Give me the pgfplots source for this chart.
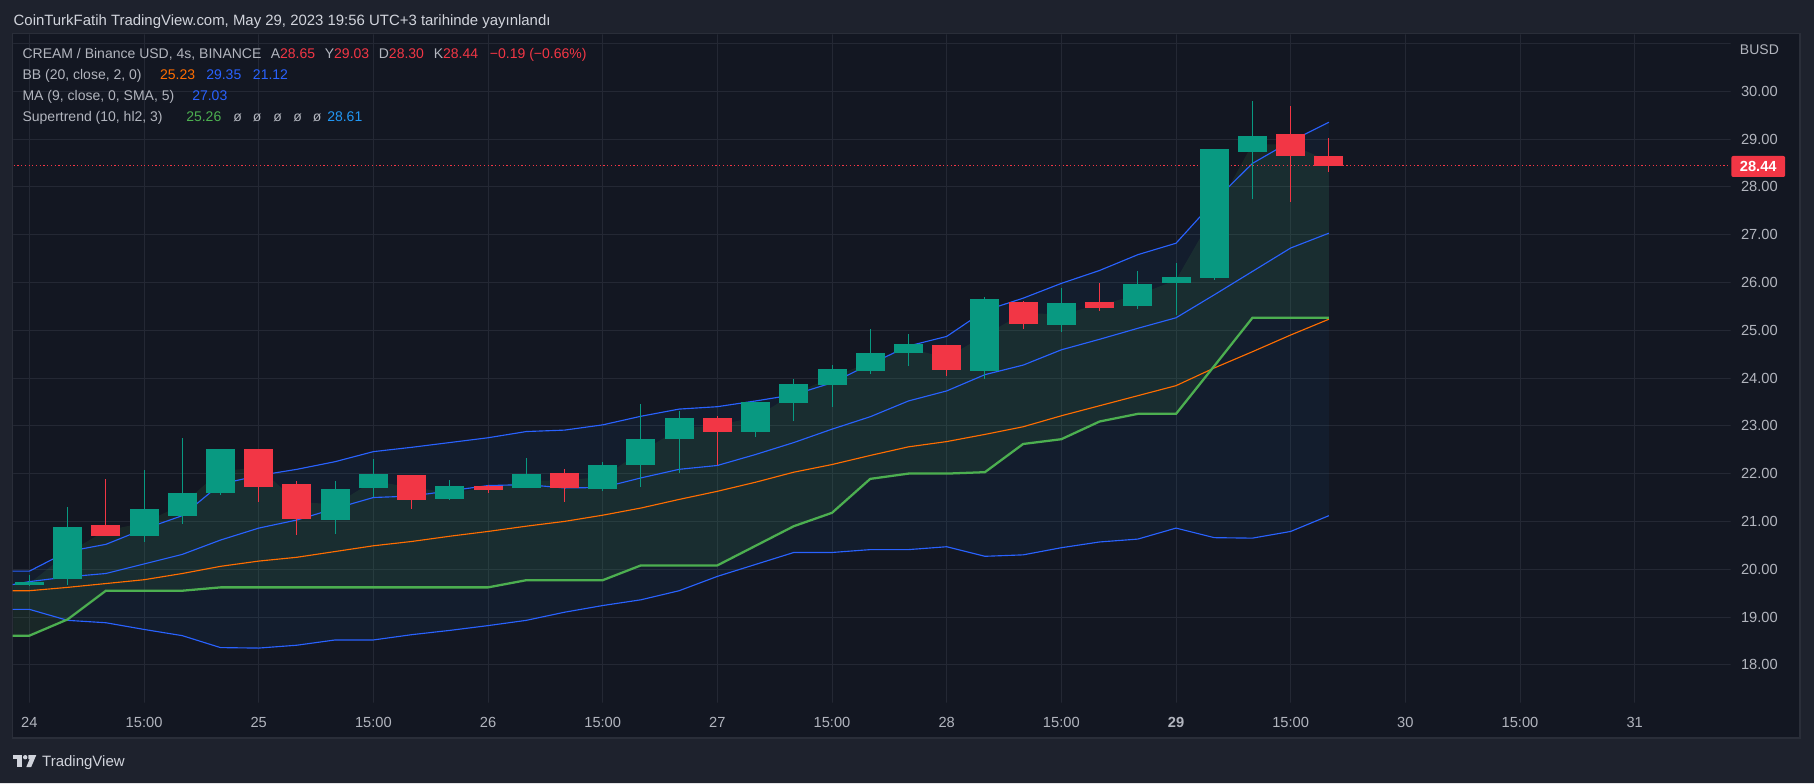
\documentclass[border=0pt]{standalone}
\usepackage{fontspec}
\setmainfont{Liberation Sans}
\usepackage{pgfplots}
\pgfplotsset{compat=1.18}
\usepackage{pgfplotstable}
\usepgfplotslibrary{fillbetween}

\definecolor{outerbg}{RGB}{30,34,45}
\definecolor{plotbg}{RGB}{19,23,34}
\definecolor{framec}{RGB}{42,46,57}
\definecolor{gridc}{RGB}{36,40,52}
\definecolor{txt}{RGB}{178,181,190}
\definecolor{hdr}{RGB}{209,212,220}
\definecolor{upc}{RGB}{8,153,129}
\definecolor{dnc}{RGB}{242,54,69}
\definecolor{bbblue}{RGB}{41,98,255}
\definecolor{basisc}{RGB}{255,109,0}
\definecolor{stgreen}{RGB}{76,175,80}
\definecolor{stblue}{RGB}{33,150,243}

% 4h candles, index 0 = 24 May 03:00
\pgfplotstableread{
i  o     h     l     c
-1 19.70 19.70 19.70 19.70
0  19.66 19.87 19.64 19.74
1  19.79 21.31 19.66 20.89
2  20.93 21.89 20.69 20.69
3  20.69 22.08 20.56 21.25
4  21.11 22.75 20.94 21.60
5  21.59 22.52 21.56 22.52
6  22.52 22.52 21.40 21.73
7  21.79 21.84 20.71 21.04
8  21.02 21.85 20.73 21.68
9  21.69 22.31 21.51 22.00
10 21.98 21.98 21.27 21.44
11 21.46 21.87 21.44 21.75
12 21.75 21.77 21.59 21.65
13 21.70 22.32 21.70 22.00
14 22.02 22.09 21.40 21.70
15 21.67 22.25 21.63 22.19
16 22.19 23.45 21.72 22.72
17 22.72 23.30 22.01 23.16
18 23.16 23.20 22.19 22.87
19 22.87 23.49 22.76 23.49
20 23.48 23.97 23.10 23.87
21 23.85 24.27 23.39 24.18
22 24.15 25.02 24.08 24.52
23 24.53 24.92 24.25 24.71
24 24.69 24.69 24.05 24.16
25 24.14 25.70 23.97 25.66
26 25.59 25.62 25.03 25.12
27 25.10 25.89 24.97 25.57
28 25.59 25.99 25.41 25.47
29 25.50 26.24 25.45 25.97
30 25.98 26.41 25.32 26.12
31 26.10 28.79 26.05 28.79
32 28.72 29.80 27.75 29.07
33 29.11 29.69 27.69 28.65
34 28.65 29.03 28.30 28.44
}\candles

% u = upper BB, m = MA, b = BB basis, l = lower BB, s = supertrend
\pgfplotstableread{
i  u     m     b     l     s
-1 19.96 19.60 19.55 19.16 18.61
0  19.96 19.74 19.55 19.16 18.61
1  20.37 19.84 19.62 18.93 18.95
2  20.52 19.91 19.70 18.88 19.55
3  20.84 20.11 19.78 18.74 19.55
4  21.12 20.31 19.91 18.61 19.55
5  21.78 20.61 20.06 18.36 19.62
6  21.96 20.86 20.17 18.35 19.62
7  22.09 21.03 20.25 18.41 19.62
8  22.25 21.27 20.37 18.52 19.62
9  22.46 21.50 20.49 18.52 19.62
10 22.55 21.53 20.58 18.63 19.62
11 22.65 21.64 20.69 18.72 19.62
12 22.75 21.75 20.79 18.82 19.62
13 22.88 21.77 20.90 18.93 19.77
14 22.91 21.70 21.00 19.10 19.77
15 23.02 21.71 21.13 19.24 19.77
16 23.20 21.91 21.28 19.36 20.08
17 23.35 22.09 21.46 19.55 20.08
18 23.40 22.17 21.63 19.85 20.08
19 23.52 22.40 21.82 20.10 20.49
20 23.65 22.65 22.03 20.35 20.90
21 23.90 22.93 22.19 20.35 21.18
22 24.29 23.19 22.38 20.41 21.89
23 24.67 23.52 22.56 20.41 22.00
24 24.87 23.73 22.67 20.47 22.00
25 25.41 24.07 22.82 20.27 22.03
26 25.67 24.27 22.98 20.30 22.62
27 25.98 24.59 23.21 20.45 22.72
28 26.25 24.81 23.42 20.57 23.09
29 26.58 25.04 23.63 20.63 23.25
30 26.82 25.26 23.84 20.86 23.25
31 27.70 25.74 24.21 20.66 24.25
32 28.49 26.23 24.55 20.65 25.26
33 28.95 26.72 24.90 20.79 25.26
34 29.35 27.03 25.23 21.12 25.26
}\ind

\begin{document}
\begin{tikzpicture}
% backgrounds around the plot area (pixel units from the top left)
\begin{scope}[x=0.75pt,y=-0.75pt,shift={(0pt,587.25pt)}]
  \fill[outerbg, even odd rule] (0,0) rectangle (1814,783) (12.7,33.3) rectangle (1800,738);
  \fill[plotbg, even odd rule] (12.7,33.3) rectangle (1800,738) (13.2,34.5) rectangle (1730.5,702.5);
  \draw[framec, line width=1.1pt] (12.7,33.3) rectangle (1800,738);
\end{scope}

\begin{axis}[
  set layers,
  at={(9.525pt,60pt)}, anchor=south west,
  scale only axis, width=1288.7pt, height=501.75pt,
  xmin=-0.437, xmax=44.52, ymin=17.201, ymax=31.197,
  axis background/.style={fill=plotbg},
  axis line style={draw=none},
  major tick length=0pt, tick style={draw=none},
  grid=major, major grid style={draw=gridc, line width=0.75pt},
  xtick={0,3,...,42}, ytick={18,...,31},
  xticklabels={}, yticklabels={},
]
% Bollinger band fill
\addplot[draw=none, name path=bbu] table[x=i,y=u]{\ind};
\addplot[draw=none, name path=bbl] table[x=i,y=l]{\ind};
\addplot[fill=stblue, fill opacity=0.055, draw=none] fill between[of=bbu and bbl];
% Supertrend fill between body middle and trend line
\addplot[draw=none, name path=mid] table[x=i, y expr=(\thisrow{o}+\thisrow{c})/2]{\candles};
\addplot[draw=none, name path=st] table[x=i,y=s]{\ind};
\addplot[fill=stgreen, fill opacity=0.11, draw=none] fill between[of=mid and st];

\addplot[basisc, line width=0.85pt] table[x=i,y=b]{\ind};
\addplot[bbblue, line width=0.85pt] table[x=i,y=u]{\ind};
\addplot[bbblue, line width=0.85pt] table[x=i,y=l]{\ind};
\addplot[bbblue, line width=0.85pt] table[x=i,y=m]{\ind};
\addplot[stgreen, line width=1.7pt] table[x=i,y=s]{\ind};

% last price line
\addplot[dnc, line width=0.8pt, dash pattern=on 0.9pt off 1.9pt] coordinates {(-1,28.44) (46,28.44)};

% candles: wicks and bodies as error bars
\addplot[draw=none, mark=none, restrict expr to domain={\thisrow{c}-\thisrow{o}}{0:100},
  error bars/.cd, y dir=both, y explicit, error mark=none,
  error bar style={draw=upc, line width=0.75pt}]
  table[x=i, y expr=(\thisrow{h}+\thisrow{l})/2, y error expr=(\thisrow{h}-\thisrow{l})/2]{\candles};
\addplot[draw=none, mark=none, restrict expr to domain={\thisrow{c}-\thisrow{o}}{-100:-0.0001},
  error bars/.cd, y dir=both, y explicit, error mark=none,
  error bar style={draw=dnc, line width=0.75pt}]
  table[x=i, y expr=(\thisrow{h}+\thisrow{l})/2, y error expr=(\thisrow{h}-\thisrow{l})/2]{\candles};
\addplot[draw=none, mark=none, restrict expr to domain={\thisrow{c}-\thisrow{o}}{0:100},
  error bars/.cd, y dir=both, y explicit, error mark=none,
  error bar style={draw=upc, line width=21.75pt}]
  table[x=i, y expr=(\thisrow{o}+\thisrow{c})/2, y error expr=abs(\thisrow{c}-\thisrow{o})/2]{\candles};
\addplot[draw=none, mark=none, restrict expr to domain={\thisrow{c}-\thisrow{o}}{-100:-0.0001},
  error bars/.cd, y dir=both, y explicit, error mark=none,
  error bar style={draw=dnc, line width=21.75pt}]
  table[x=i, y expr=(\thisrow{o}+\thisrow{c})/2, y error expr=abs(\thisrow{c}-\thisrow{o})/2]{\candles};
\end{axis}

% texts, in pixel units from the top left
\begin{scope}[x=0.75pt,y=-0.75pt,shift={(0pt,587.25pt)},
  every node/.style={inner sep=0pt, anchor=base west}]
  \node[text=hdr, font=\fontsize{11.2}{13}\selectfont] at (13.4,25.3)
    {CoinTurkFatih TradingView.com, May 29, 2023 19:56 UTC+3 tarihinde yayınlandı};
  \begin{scope}[every node/.append style={font=\fontsize{10.5}{12}\selectfont}]
    \node[text=txt] at (22.3,59) {CREAM / Binance USD, 4s, BINANCE};
    \node[text=txt] at (270.5,59) {A\textcolor{dnc}{28.65}};
    \node[text=txt] at (324.6,59) {Y\textcolor{dnc}{29.03}};
    \node[text=txt] at (378.6,59) {D\textcolor{dnc}{28.30}};
    \node[text=txt] at (433.5,59) {K\textcolor{dnc}{28.44}};
    \node[text=dnc] at (489.7,59) {−0.19 (−0.66\%)};
    \node[text=txt] at (22.3,80) {BB (20, close, 2, 0)};
    \node[text=basisc] at (159.8,80) {25.23};
    \node[text=bbblue] at (206,80) {29.35};
    \node[text=bbblue] at (252.7,80) {21.12};
    \node[text=txt] at (22.3,101) {MA (9, close, 0, SMA, 5)};
    \node[text=bbblue] at (192,101) {27.03};
    \node[text=txt] at (22.3,122) {Supertrend (10, hl2, 3)};
    \node[text=stgreen] at (186,122) {25.26};
    \foreach \xx in {233,252.7,273,293,312.5} \node[text=txt] at (\xx,122) {ø};
    \node[text=stblue] at (327,122) {28.61};
  \end{scope}
  % price scale
  \node[text=txt, anchor=center, font=\fontsize{10.5}{12}\selectfont] at (1759.4,50) {BUSD};
  \foreach \v in {18,...,30}
    \node[text=txt, anchor=center, font=\fontsize{11}{13}\selectfont] at (1759.4,{91.2+(30-\v)*47.8}) {\v.00};
  \fill[dnc, rounded corners=1.5pt] (1731.3,156) rectangle (1785.2,177);
  \node[text=white, anchor=center, font=\bfseries\fontsize{11}{13}\selectfont] at (1758.2,166.5) {28.44};
  % time scale, one label every third 4h bar
  \foreach \k/\lab in {0/24,3/15:00,6/25,9/15:00,12/26,15/15:00,18/27,21/15:00,24/28,27/15:00,30/{\bfseries 29},33/15:00,36/30,39/15:00,42/31}
    \node[text=txt, anchor=base, font=\fontsize{11}{13}\selectfont] at ({29.4+38.22*\k},727.3) {\lab};
  % TradingView logo
  \fill[hdr] (12.6,755) rectangle (21.6,759.2);
  \fill[hdr] (17.4,755) rectangle (21.6,767);
  \fill[hdr] (25.2,757.2) circle (2.2);
  \fill[hdr] (28.4,755) -- (36.3,755) -- (31.2,767) -- (26.3,767) -- (29.6,759.2) -- (28.4,759.2) -- cycle;
  \node[text=hdr, font=\fontsize{11.25}{13}\selectfont] at (41.9,766.7) {TradingView};
\end{scope}
\end{tikzpicture}
\end{document}
